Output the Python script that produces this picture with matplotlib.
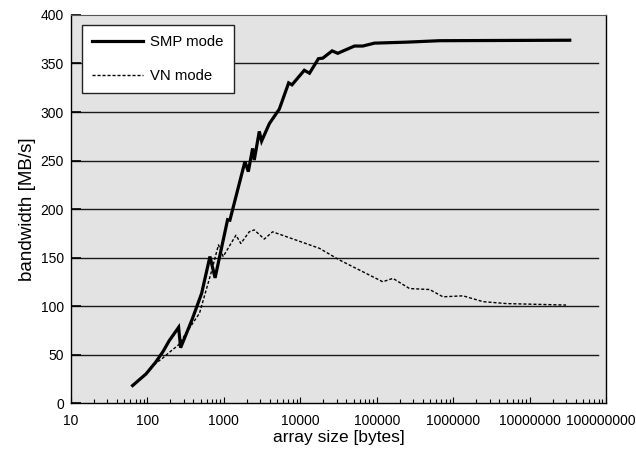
import matplotlib
matplotlib.use("Agg")
import matplotlib.pyplot as plt
from matplotlib.ticker import FixedLocator, FixedFormatter, LogLocator, NullFormatter

plt.rcParams["font.family"] = ["Liberation Sans", "DejaVu Sans"]
plt.rcParams["font.size"] = 10

# SMP mode: array size [bytes] vs bandwidth [MB/s]
smp_size = [64, 96, 128, 160, 192, 256, 272, 384, 512, 658, 768, 1120, 1200,
            1890, 2090, 2380, 2500, 2910, 3120, 3940, 5320, 7050, 7800, 9250,
            11300, 13200, 17300, 19700, 26100, 30900, 51200, 65800, 93600,
            244000, 665000, 33554432]
smp_bw = [18, 30, 42, 53, 64, 78, 57, 86, 113, 151, 129, 189, 188.5,
          249, 238.5, 262.5, 250.5, 280, 270, 288, 303, 330, 328, 335,
          343, 340, 355, 355.5, 363, 360.5, 368, 368, 371,
          372, 373.5, 374]

# VN mode
vn_size = [64, 96, 128, 157, 192, 256, 320, 480, 680, 850, 980, 1440, 1670,
           2150, 2500, 3380, 4350, 17800, 32500, 120000, 163000, 269000,
           493000, 736000, 1350000, 2460000, 5000000, 30000000]
vn_bw = [18, 30, 41, 46, 52, 60, 72, 92.5, 134, 163, 151, 173, 164.5,
         176.5, 178.5, 169, 176.5, 159.5, 147.5, 125, 128.5, 118,
         117, 109.5, 110.5, 104.5, 102.5, 101]

x_ticks = [10, 100, 1000, 10000, 100000, 1000000, 10000000, 100000000]
x_labels = [str(v) for v in x_ticks]
y_ticks = [0, 50, 100, 150, 200, 250, 300, 350, 400]

fig = plt.figure(figsize=(6.36, 4.49), dpi=100)
ax = fig.add_axes([0.1116, 0.1024, 0.8412, 0.8642])
ax.set_facecolor("#e3e3e3")

# horizontal gridlines stop a bit short of the right frame
for y in y_ticks[1:-1]:
    ax.axhline(y, xmin=0, xmax=0.985, color="#1a1a1a", lw=1.0, zorder=1)

ax.plot(smp_size, smp_bw, color="black", lw=2.3, label="SMP mode",
        solid_joinstyle="miter", zorder=3)
ax.plot(vn_size, vn_bw, color="black", lw=1.0, ls=(0, (2.2, 1.4)),
        label="VN mode", zorder=3)

ax.set_xscale("log")
ax.set_xlim(10, 100000000)
ax.set_ylim(0, 400)
ax.xaxis.set_major_locator(FixedLocator(x_ticks))
# last label is drawn separately, nudged left so it stays inside the figure
ax.xaxis.set_major_formatter(FixedFormatter(x_labels[:-1] + [""]))
ax.xaxis.set_minor_locator(LogLocator(base=10, subs=range(2, 10), numticks=20))
ax.xaxis.set_minor_formatter(NullFormatter())
ax.set_yticks(y_ticks)
ax.annotate(x_labels[-1], xy=(x_ticks[-1], 0), xycoords=("data", "axes fraction"),
            xytext=(-4, -8), textcoords="offset points", ha="center", va="top",
            fontsize=10, annotation_clip=False)

ax.tick_params(axis="x", which="major", direction="in", length=4, width=0.8, pad=8)
ax.tick_params(axis="x", which="minor", direction="in", length=3, width=0.8)
ax.tick_params(axis="y", direction="in", length=7, width=1.2, pad=5)

for side in ["left", "right", "bottom"]:
    ax.spines[side].set_color("black")
    ax.spines[side].set_linewidth(1.0)
ax.spines["top"].set_color("#555555")

ax.set_xlabel("array size [bytes]", fontsize=12.5, labelpad=1)
ax.set_ylabel("bandwidth [MB/s]", fontsize=13.5, labelpad=3)

leg = ax.legend(loc="upper left", bbox_to_anchor=(0.0206, 0.974), borderaxespad=0,
                frameon=True, fancybox=False, edgecolor="#222222", facecolor="white",
                framealpha=1, handlelength=3.4, handletextpad=0.5,
                labelspacing=1.3, borderpad=0.7, fontsize=10.7)
leg.get_frame().set_linewidth(1.0)

fig.savefig("out.png", dpi=100)
